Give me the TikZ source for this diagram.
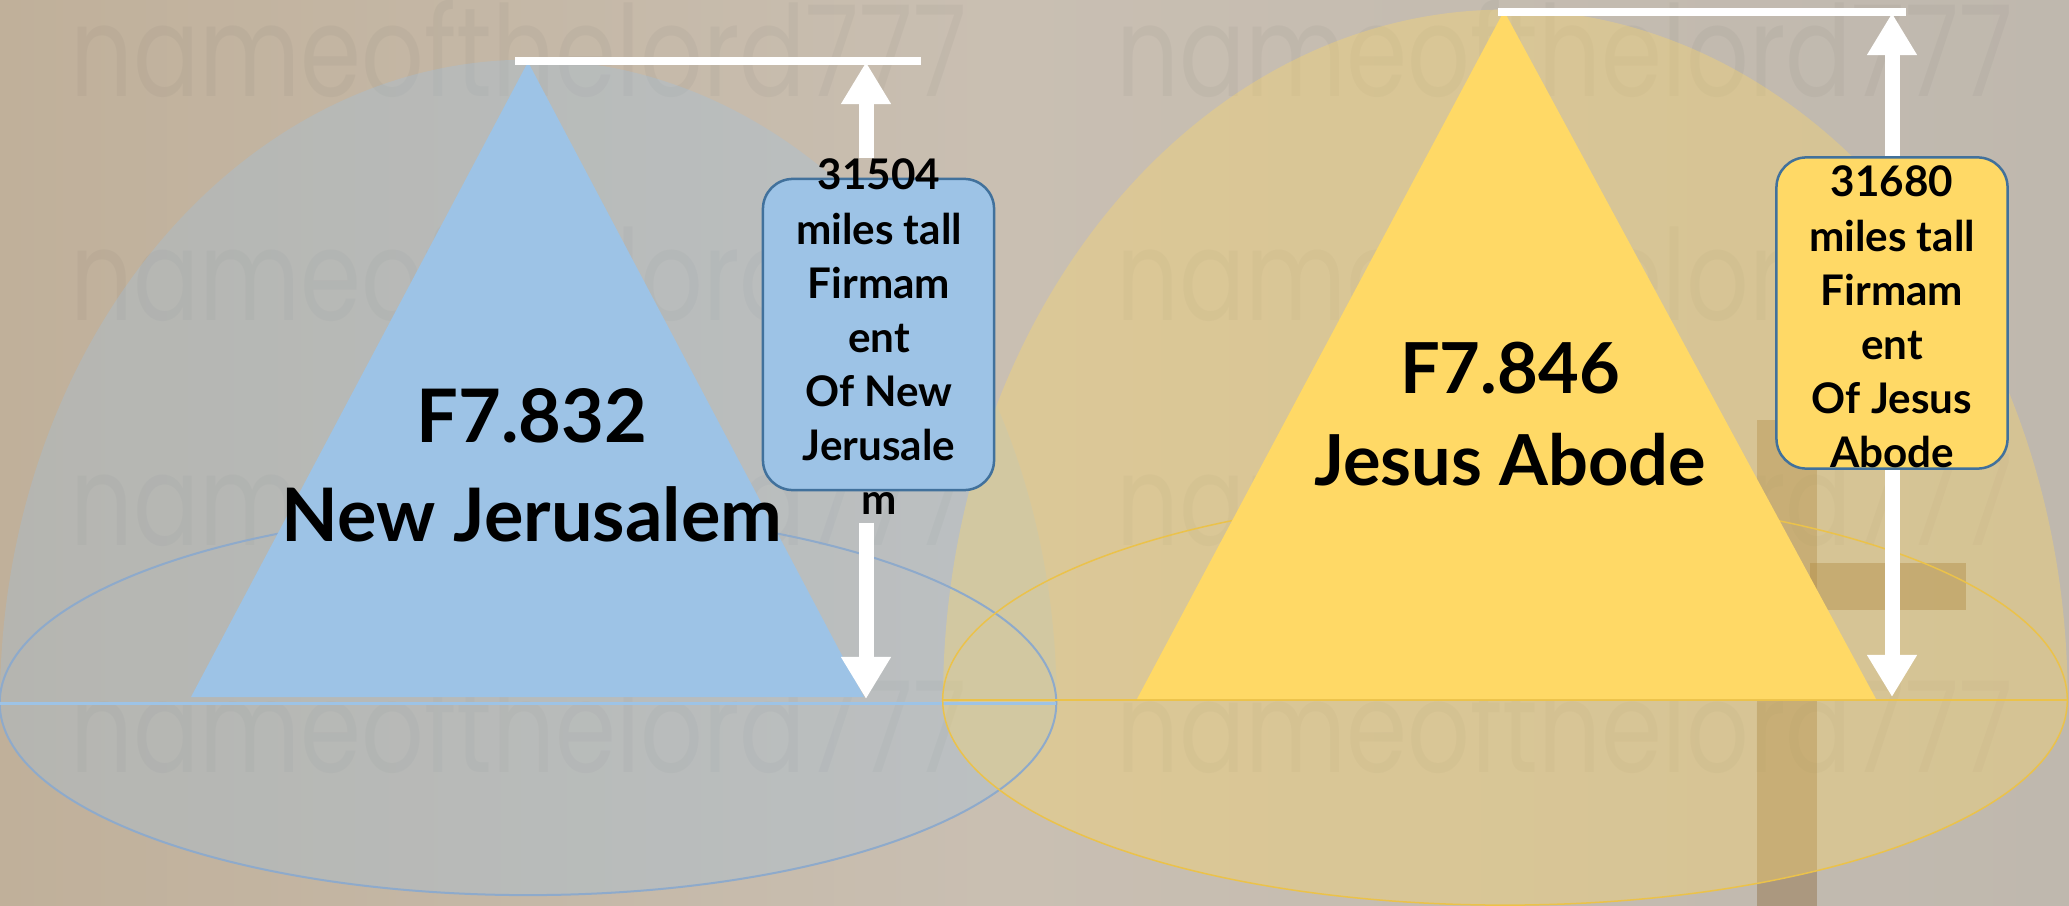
\documentclass[tikz,border=0pt]{standalone}
\usepackage{fontspec}
\setmainfont{Lato}
\newfontfamily\markfont{Poppins}
\usetikzlibrary{arrows.meta, calc}

\definecolor{jerublue}{HTML}{9DC3E6}
\definecolor{abodegold}{HTML}{FFD966}
\definecolor{boxedge}{HTML}{41719C}
\definecolor{wallbeige}{HTML}{C9BFB2}
\definecolor{wallsand}{HTML}{C0B09A}
\definecolor{wallgrey}{HTML}{BFB8AE}
\definecolor{crossbrown}{HTML}{8A6638}
\definecolor{rimblue}{HTML}{8EAACB}
\definecolor{rimgold}{HTML}{EBC24A}

\tikzset{
  dimarrow/.style={draw=white, line width=0.15cm, -{Triangle[length=0.42cm, width=0.47cm]}},
  topbar/.style={draw=white, line width=0.08cm},
  tallbox/.style={draw=boxedge, line width=0.025cm, rounded corners=0.3cm, minimum width=2.31cm, minimum height=3.11cm, inner sep=0pt},
  talltext/.style={align=center, inner sep=0pt, font=\bfseries\fontsize{12}{15.4}\selectfont},
  bigname/.style={align=center, inner sep=0pt, font=\bfseries\fontsize{21}{28.2}\selectfont},
  watermark/.style={anchor=base west, inner sep=0pt, text=black!70, opacity=0.05, font=\markfont\fontsize{30}{30}\selectfont}
}

\begin{document}
\begin{tikzpicture}
\begin{scope}[x=0.01cm, y=-0.01cm]
\useasboundingbox (0,0) rectangle (2069,906);
\clip (0,0) rectangle (2069,906);

%---wall---
\shade[left color=wallsand, right color=wallbeige] (0,0) rectangle (1000,906);
\shade[left color=wallbeige, right color=wallgrey] (1000,0) rectangle (2069,906);

%---cross---
\fill[crossbrown, opacity=0.4] (1757,420) rectangle (1817,906);
\fill[crossbrown, opacity=0.45] (1810,563) rectangle (1966,610);

%---watermark---
\foreach \wy/\wn in {96/1, 320/2, 545/3, 772/4} {
  \node[watermark] (markL\wn) at (70,\wy) {\scalebox{0.93}[1.2]{nameofthelord777}};
  \node[watermark] (markR\wn) at (1116,\wy) {\scalebox{0.93}[1.2]{nameofthelord777}};
}

%---domes---
\fill[jerublue, opacity=0.3] (0,703) arc[start angle=180, end angle=0, x radius=5.28cm, y radius=6.43cm]
  arc[start angle=0, end angle=-180, x radius=5.28cm, y radius=1.92cm];
\fill[abodegold, opacity=0.35] (943,700) arc[start angle=180, end angle=0, x radius=5.62cm, y radius=6.9cm]
  arc[start angle=0, end angle=-180, x radius=5.62cm, y radius=2.05cm];

\draw[rimblue, line width=0.02cm] (528,703) ellipse [x radius=5.28cm, y radius=1.92cm];
\draw[jerublue, line width=0.03cm] (0,703) -- (1056,703);
\draw[rimgold, line width=0.015cm] (1505,700) ellipse [x radius=5.62cm, y radius=2.05cm];
\draw[rimgold, line width=0.015cm] (943,700) -- (2067,700);

%---New Jerusalem---
\fill[jerublue] (528,62) -- (864,697) -- (191,697) -- cycle;
\node[bigname] (ljname) at (532,465) {F7.832\\New Jerusalem};

\coordinate (ljbarL) at (515,61);
\coordinate (ljbarR) at (921,61);
\coordinate (ljtip) at (866,62);
\coordinate (ljfoot) at (866,699);
\draw[topbar] (ljbarL) -- (ljbarR);

\node[tallbox, fill=jerublue] (ljbox) at (878.5,334.5) {};
\node[talltext] (ljtext) at (879,337) {31504\\miles tall\\Firmam\\ent\\Of New\\Jerusale\\m};
\draw[dimarrow] (ljtext.north -| ljtip) -- (ljtip);
\draw[dimarrow] ($(ljtext.south -| ljfoot)+(0,7)$) -- (ljfoot);

%---Jesus Abode---
\fill[abodegold] (1504,11) -- (1876,699) -- (1137,699) -- cycle;
\node[bigname, font=\bfseries\fontsize{20}{26.4}\selectfont] (abname) at (1510,414) {F7.846\\Jesus Abode};

\coordinate (abbarL) at (1498,12);
\coordinate (abbarR) at (1906,12);
\coordinate (abtip) at (1892,13);
\coordinate (abfoot) at (1892,697);
\draw[topbar] (abbarL) -- (abbarR);

\node[tallbox, fill=abodegold] (abbox) at (1892,313) {};
\node[talltext] (abtext) at (1892,317) {31680\\miles tall\\Firmam\\ent\\Of Jesus\\Abode};
\draw[dimarrow] (abbox.north) -- (abtip);
\draw[dimarrow] (abbox.south) -- (abfoot);

\end{scope}
\end{tikzpicture}
\end{document}
